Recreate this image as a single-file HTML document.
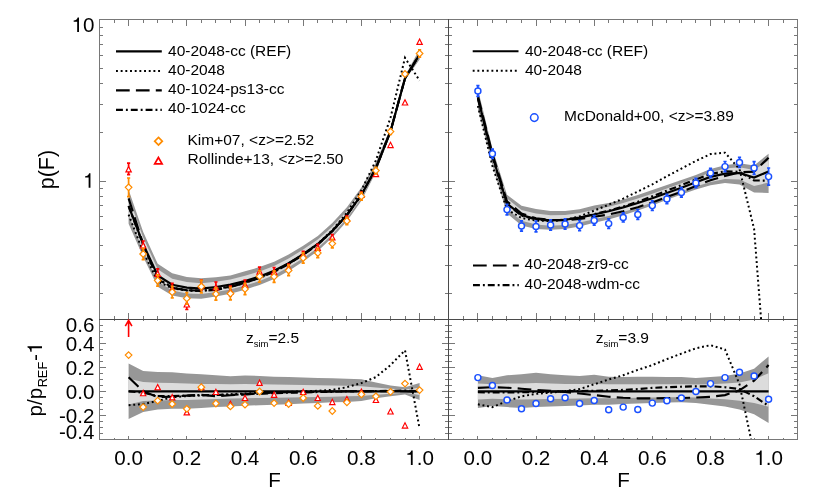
<!DOCTYPE html>
<html><head><meta charset="utf-8"><title>p(F)</title>
<style>
html,body{margin:0;padding:0;background:#fff;}
body{width:830px;height:499px;overflow:hidden;font-family:"Liberation Sans",sans-serif;}
svg{display:block;will-change:transform;}
</style></head><body>
<svg width="830" height="499" viewBox="0 0 830 499" font-family="'Liberation Sans', sans-serif" fill="#000">
<defs>
<clipPath id="cTL"><rect x="99.6" y="19.8" width="349.2" height="299.5"/></clipPath>
<clipPath id="cTR"><rect x="448.8" y="19.8" width="348.8" height="299.5"/></clipPath>
<clipPath id="cBL"><rect x="99.6" y="319.3" width="349.2" height="119.9"/></clipPath>
<clipPath id="cBR"><rect x="448.8" y="319.3" width="348.8" height="119.9"/></clipPath>
</defs>
<rect width="830" height="499" fill="#fff"/>
<g clip-path="url(#cTL)">
<path d="M128.6 189.8 L143.2 232.1 L157.7 263.8 L172.2 273.3 L186.8 276.9 L201.3 278.3 L215.9 277.2 L230.4 275.4 L245.0 271.3 L259.6 267.1 L274.1 261.8 L288.6 254.5 L303.2 245.8 L317.8 235.9 L332.3 223.0 L346.9 207.3 L361.4 187.6 L375.9 162.6 L390.5 127.8 L405.0 75.8 L419.6 49.3 L419.6 59.5 L405.0 80.2 L390.5 134.4 L375.9 172.3 L361.4 200.8 L346.9 221.2 L332.3 237.5 L317.8 251.0 L303.2 261.5 L288.6 270.9 L274.1 278.9 L259.6 284.9 L245.0 289.7 L230.4 293.7 L215.9 296.6 L201.3 298.7 L186.8 298.3 L172.2 295.4 L157.7 286.7 L143.2 257.0 L128.6 223.8 Z" fill="#979797"/>
<path d="M128.6 197.0 L143.2 237.4 L157.7 269.2 L172.2 278.8 L186.8 282.0 L201.3 283.2 L215.9 281.7 L230.4 279.5 L245.0 275.7 L259.6 271.4 L274.1 265.9 L288.6 258.5 L303.2 249.6 L317.8 239.6 L332.3 226.8 L346.9 210.9 L361.4 191.3 L375.9 165.3 L390.5 129.5 L405.0 77.1 L419.6 51.7 L419.6 56.9 L405.0 79.3 L390.5 133.1 L375.9 170.4 L361.4 198.0 L346.9 218.3 L332.3 234.6 L317.8 247.8 L303.2 258.2 L288.6 267.3 L274.1 275.1 L259.6 281.0 L245.0 285.6 L230.4 289.4 L215.9 292.1 L201.3 294.0 L186.8 293.4 L172.2 290.5 L157.7 281.6 L143.2 250.8 L128.6 215.0 Z" fill="#dcdcdc"/>
</g>
<g clip-path="url(#cTR)">
<path d="M477.9 89.2 L492.4 148.6 L507.0 194.7 L521.5 205.7 L536.0 209.0 L550.6 211.0 L565.1 211.0 L579.6 209.2 L594.2 205.4 L608.7 203.1 L623.2 199.6 L637.8 194.9 L652.3 190.1 L666.9 185.0 L681.4 179.9 L695.9 174.9 L710.5 169.1 L725.0 165.2 L739.5 163.3 L754.1 165.4 L768.6 153.7 L768.6 192.9 L754.1 192.4 L739.5 184.5 L725.0 183.0 L710.5 185.2 L695.9 189.5 L681.4 194.5 L666.9 199.8 L652.3 205.4 L637.8 210.5 L623.2 215.2 L608.7 219.5 L594.2 222.8 L579.6 226.4 L565.1 228.9 L550.6 229.7 L536.0 228.9 L521.5 225.4 L507.0 213.4 L492.4 165.1 L477.9 108.4 Z" fill="#979797"/>
<path d="M477.9 92.9 L492.4 151.5 L507.0 198.5 L521.5 209.9 L536.0 213.6 L550.6 215.2 L565.1 215.0 L579.6 212.9 L594.2 209.7 L608.7 206.7 L623.2 202.9 L637.8 198.5 L652.3 193.7 L666.9 188.4 L681.4 183.2 L695.9 177.9 L710.5 172.4 L725.0 168.6 L739.5 167.3 L754.1 170.0 L768.6 160.4 L768.6 182.6 L754.1 185.9 L739.5 179.6 L725.0 179.1 L710.5 181.9 L695.9 186.6 L681.4 191.8 L666.9 197.0 L652.3 202.5 L637.8 207.5 L623.2 212.1 L608.7 216.0 L594.2 219.3 L579.6 222.6 L565.1 225.0 L550.6 225.7 L536.0 224.5 L521.5 220.7 L507.0 209.0 L492.4 161.2 L477.9 103.7 Z" fill="#dcdcdc"/>
</g>
<g clip-path="url(#cBL)">
<path d="M128.6 363.5 L143.2 371.1 L157.7 371.9 L172.2 372.3 L186.8 373.5 L201.3 374.3 L215.9 375.2 L230.4 376.2 L245.0 375.5 L259.6 375.9 L274.1 376.7 L288.6 377.1 L303.2 377.6 L317.8 378.1 L332.3 378.3 L346.9 378.8 L361.4 379.3 L375.9 382.4 L390.5 385.5 L405.0 387.2 L419.6 383.1 L419.6 399.9 L405.0 394.4 L390.5 396.3 L375.9 398.3 L361.4 401.1 L346.9 401.9 L332.3 402.3 L317.8 403.1 L303.2 403.5 L288.6 404.3 L274.1 404.7 L259.6 405.2 L245.0 405.7 L230.4 406.4 L215.9 407.1 L201.3 407.9 L186.8 408.8 L172.2 408.8 L157.7 409.5 L143.2 411.9 L128.6 419.1 Z" fill="#979797"/>
<path d="M128.6 378.7 L143.2 381.9 L157.7 382.7 L172.2 383.1 L186.8 383.6 L201.3 383.9 L215.9 384.1 L230.4 384.3 L245.0 384.1 L259.6 384.3 L274.1 384.6 L288.6 384.8 L303.2 385.1 L317.8 385.3 L332.3 385.5 L346.9 385.8 L361.4 386.3 L375.9 387.5 L390.5 388.7 L405.0 389.6 L419.6 387.7 L419.6 395.1 L405.0 392.7 L390.5 393.7 L375.9 394.7 L361.4 395.9 L346.9 396.3 L332.3 396.8 L317.8 397.1 L303.2 397.3 L288.6 397.5 L274.1 397.8 L259.6 398.0 L245.0 398.3 L230.4 398.5 L215.9 399.0 L201.3 399.5 L186.8 399.9 L172.2 399.9 L157.7 400.4 L143.2 401.1 L128.6 404.5 Z" fill="#dcdcdc"/>
</g>
<g clip-path="url(#cBR)">
<path d="M477.9 375.2 L492.4 377.9 L507.0 375.2 L521.5 374.3 L536.0 372.8 L550.6 374.3 L565.1 375.2 L579.6 375.9 L594.2 374.7 L608.7 376.7 L623.2 377.1 L637.8 376.7 L652.3 376.7 L666.9 376.9 L681.4 377.1 L695.9 377.9 L710.5 377.1 L725.0 375.9 L739.5 373.5 L754.1 368.7 L768.6 356.5 L768.6 422.9 L754.1 414.3 L739.5 409.5 L725.0 406.4 L710.5 404.7 L695.9 403.1 L681.4 402.3 L666.9 402.6 L652.3 403.1 L637.8 403.5 L623.2 404.0 L608.7 404.7 L594.2 404.7 L579.6 405.5 L565.1 405.9 L550.6 406.4 L536.0 407.1 L521.5 407.9 L507.0 407.1 L492.4 405.9 L477.9 407.9 Z" fill="#979797"/>
<path d="M477.9 383.4 L492.4 384.3 L507.0 383.6 L521.5 383.4 L536.0 382.9 L550.6 383.4 L565.1 383.9 L579.6 384.1 L594.2 383.9 L608.7 384.3 L623.2 384.3 L637.8 384.3 L652.3 384.3 L666.9 384.3 L681.4 384.3 L695.9 384.6 L710.5 384.3 L725.0 383.6 L739.5 382.4 L754.1 379.5 L768.6 373.3 L768.6 406.7 L754.1 403.1 L739.5 400.7 L725.0 399.2 L710.5 398.5 L695.9 397.5 L681.4 397.3 L666.9 397.3 L652.3 397.5 L637.8 397.8 L623.2 398.0 L608.7 398.3 L594.2 398.3 L579.6 398.5 L565.1 398.7 L550.6 399.0 L536.0 399.2 L521.5 399.5 L507.0 399.2 L492.4 398.7 L477.9 399.5 Z" fill="#dcdcdc"/>
</g>
<path d="M128.6 206.0 L143.2 244.2 L157.7 275.5 L172.2 284.7 L186.8 287.6 L201.3 288.6 L215.9 287.0 L230.4 284.6 L245.0 281.0 L259.6 276.5 L274.1 270.8 L288.6 263.2 L303.2 254.2 L317.8 244.0 L332.3 231.0 L346.9 215.0 L361.4 195.0 L375.9 168.2 L390.5 131.5 L405.0 78.4 L419.6 54.4" fill="none" stroke="#000" stroke-width="2.15"  clip-path="url(#cTL)"/>
<path d="M128.6 214.6 L143.2 252.0 L157.7 281.3 L172.2 288.3 L186.8 290.5 L201.3 291.0 L215.9 289.1 L230.4 286.3 L245.0 282.3 L259.6 277.3 L274.1 271.4 L288.6 263.5 L303.2 254.2 L317.8 243.7 L332.3 230.2 L346.9 212.7 L361.4 190.4 L375.9 160.4 L390.5 117.7 L405.0 57.8 L419.6 80.6" fill="none" stroke="#000" stroke-width="2.00" stroke-dasharray="1.9 2.78" clip-path="url(#cTL)"/>
<path d="M128.6 198.3 L143.2 244.2 L157.7 279.0 L172.2 287.9 L186.8 290.2 L201.3 290.7 L215.9 289.9 L230.4 286.9 L245.0 282.8 L259.6 277.8 L274.1 271.5 L288.6 263.8 L303.2 254.6 L317.8 244.3 L332.3 231.1 L346.9 215.0 L361.4 195.0 L375.9 168.1 L390.5 131.4 L405.0 78.4 L419.6 54.7" fill="none" stroke="#000" stroke-width="2.15" stroke-dasharray="13.7 6.2" clip-path="url(#cTL)"/>
<path d="M128.6 206.0 L143.2 245.0 L157.7 278.4 L172.2 287.6 L186.8 290.2 L201.3 290.9 L215.9 289.1 L230.4 286.7 L245.0 282.7 L259.6 277.9 L274.1 271.9 L288.6 264.0 L303.2 254.9 L317.8 244.4 L332.3 231.3 L346.9 215.0 L361.4 194.9 L375.9 168.1 L390.5 131.2 L405.0 78.0 L419.6 54.4" fill="none" stroke="#000" stroke-width="2.15" stroke-dasharray="6.9 3.0 1.9 3.0" clip-path="url(#cTL)"/>
<path d="M477.9 98.0 L492.4 156.0 L507.0 203.5 L521.5 215.0 L536.0 219.0 L550.6 220.3 L565.1 219.8 L579.6 217.6 L594.2 214.5 L608.7 211.2 L623.2 207.4 L637.8 203.0 L652.3 198.2 L666.9 192.9 L681.4 187.7 L695.9 182.3 L710.5 176.9 L725.0 173.6 L739.5 173.0 L754.1 177.5 L768.6 171.5" fill="none" stroke="#000" stroke-width="2.15"  clip-path="url(#cTR)"/>
<path d="M477.9 106.0 L492.4 165.9 L507.0 209.5 L521.5 218.0 L536.0 220.6 L550.6 221.1 L565.1 219.7 L579.6 216.4 L594.2 210.6 L608.7 204.7 L623.2 198.6 L637.8 191.5 L652.3 184.4 L666.9 176.3 L681.4 168.6 L695.9 160.9 L710.5 154.1 L725.0 152.7 L739.5 169.1 L754.1 228.9 L768.6 417.0" fill="none" stroke="#000" stroke-width="2.00" stroke-dasharray="1.9 2.78" clip-path="url(#cTR)"/>
<path d="M477.9 96.1 L492.4 153.7 L507.0 201.4 L521.5 213.5 L536.0 218.2 L550.6 220.0 L565.1 220.2 L579.6 218.9 L594.2 216.8 L608.7 214.5 L623.2 211.3 L637.8 207.2 L652.3 202.4 L666.9 197.0 L681.4 191.7 L695.9 186.0 L710.5 180.2 L725.0 175.9 L739.5 172.4 L754.1 171.6 L768.6 157.7" fill="none" stroke="#000" stroke-width="2.15" stroke-dasharray="13.7 6.2" clip-path="url(#cTR)"/>
<path d="M477.9 98.6 L492.4 156.7 L507.0 204.1 L521.5 215.6 L536.0 219.4 L550.6 220.6 L565.1 219.8 L579.6 217.5 L594.2 214.2 L608.7 210.6 L623.2 206.6 L637.8 201.8 L652.3 196.3 L666.9 190.6 L681.4 185.1 L695.9 179.4 L710.5 174.0 L725.0 171.3 L739.5 171.8 L754.1 180.5 L768.6 180.6" fill="none" stroke="#000" stroke-width="2.15" stroke-dasharray="6.9 3.0 1.9 3.0" clip-path="url(#cTR)"/>
<path d="M128.6 391.3 L143.2 391.3 L157.7 391.3 L172.2 391.3 L186.8 391.3 L201.3 391.3 L215.9 391.3 L230.4 391.3 L245.0 391.3 L259.6 391.3 L274.1 391.3 L288.6 391.3 L303.2 391.3 L317.8 391.3 L332.3 391.3 L346.9 391.3 L361.4 391.3 L375.9 391.3 L390.5 391.3 L405.0 391.3 L419.6 391.3" fill="none" stroke="#000" stroke-width="2.15"  clip-path="url(#cBL)"/>
<path d="M128.6 405.2 L143.2 404.0 L157.7 400.9 L172.2 397.3 L186.8 396.1 L201.3 395.4 L215.9 394.9 L230.4 394.2 L245.0 393.5 L259.6 392.7 L274.1 392.3 L288.6 391.8 L303.2 391.3 L317.8 390.8 L332.3 389.9 L346.9 387.2 L361.4 383.1 L375.9 377.1 L390.5 365.1 L405.0 350.3 L419.6 428.7" fill="none" stroke="#000" stroke-width="2.00" stroke-dasharray="1.9 2.78" clip-path="url(#cBL)"/>
<path d="M128.6 377.3 L143.2 391.3 L157.7 397.2 L172.2 396.6 L186.8 395.6 L201.3 394.9 L215.9 396.2 L230.4 395.3 L245.0 394.4 L259.6 393.5 L274.1 392.5 L288.6 392.3 L303.2 392.0 L317.8 391.8 L332.3 391.5 L346.9 391.3 L361.4 391.3 L375.9 391.1 L390.5 391.1 L405.0 391.3 L419.6 391.8" fill="none" stroke="#000" stroke-width="2.15" stroke-dasharray="13.7 6.2" clip-path="url(#cBL)"/>
<path d="M128.6 391.3 L143.2 392.7 L157.7 396.1 L172.2 396.1 L186.8 395.6 L201.3 395.1 L215.9 394.9 L230.4 394.9 L245.0 394.2 L259.6 393.7 L274.1 393.2 L288.6 392.7 L303.2 392.5 L317.8 392.0 L332.3 391.8 L346.9 391.3 L361.4 391.1 L375.9 391.1 L390.5 390.8 L405.0 390.6 L419.6 391.3" fill="none" stroke="#000" stroke-width="2.15" stroke-dasharray="6.9 3.0 1.9 3.0" clip-path="url(#cBL)"/>
<path d="M477.9 391.3 L492.4 391.3 L507.0 391.3 L521.5 391.3 L536.0 391.3 L550.6 391.3 L565.1 391.3 L579.6 391.3 L594.2 391.3 L608.7 391.3 L623.2 391.3 L637.8 391.3 L652.3 391.3 L666.9 391.3 L681.4 391.3 L695.9 391.3 L710.5 391.3 L725.0 391.3 L739.5 391.3 L754.1 391.3 L768.6 391.3" fill="none" stroke="#000" stroke-width="2.15"  clip-path="url(#cBR)"/>
<path d="M477.9 404.3 L492.4 407.1 L507.0 401.1 L521.5 396.3 L536.0 393.9 L550.6 392.7 L565.1 391.1 L579.6 389.1 L594.2 384.3 L608.7 379.5 L623.2 375.2 L637.8 369.9 L652.3 365.1 L666.9 359.1 L681.4 353.6 L695.9 348.3 L710.5 345.2 L725.0 349.5 L739.5 384.3 L754.1 453.7 L768.6 507.7" fill="none" stroke="#000" stroke-width="2.00" stroke-dasharray="1.9 2.78" clip-path="url(#cBR)"/>
<path d="M477.9 387.9 L492.4 387.2 L507.0 387.7 L521.5 388.7 L536.0 389.9 L550.6 390.8 L565.1 392.0 L579.6 393.5 L594.2 395.1 L608.7 396.8 L623.2 397.8 L637.8 398.3 L652.3 398.3 L666.9 398.1 L681.4 398.0 L695.9 397.5 L710.5 396.8 L725.0 395.1 L739.5 390.3 L754.1 380.7 L768.6 365.1" fill="none" stroke="#000" stroke-width="2.15" stroke-dasharray="13.7 6.2" clip-path="url(#cBR)"/>
<path d="M477.9 392.3 L492.4 392.5 L507.0 392.3 L521.5 392.3 L536.0 392.0 L550.6 391.8 L565.1 391.3 L579.6 391.1 L594.2 390.8 L608.7 390.3 L623.2 389.9 L637.8 389.1 L652.3 387.9 L666.9 387.2 L681.4 386.7 L695.9 386.3 L710.5 386.3 L725.0 387.2 L739.5 389.1 L754.1 396.3 L768.6 405.9" fill="none" stroke="#000" stroke-width="2.15" stroke-dasharray="6.9 3.0 1.9 3.0" clip-path="url(#cBR)"/>
<path d="M99 19 H798 V20 H99 Z M99 319 H798 V320 H99 Z M99 439 H798 V440 H99 Z M99 19 H100 V440 H99 Z M448 19 H449 V440 H448 Z M797 19 H798 V440 H797 Z M114 20 H115 V23 H114 Z M114 316 H115 V319 H114 Z M114 320 H115 V321 H114 Z M114 438 H115 V439 H114 Z M128 20 H129 V26 H128 Z M128 313 H129 V319 H128 Z M128 320 H129 V322 H128 Z M128 436 H129 V439 H128 Z M143 20 H144 V23 H143 Z M143 316 H144 V319 H143 Z M143 320 H144 V321 H143 Z M143 438 H144 V439 H143 Z M157 20 H158 V23 H157 Z M157 316 H158 V319 H157 Z M157 320 H158 V321 H157 Z M157 438 H158 V439 H157 Z M172 20 H173 V23 H172 Z M172 316 H173 V319 H172 Z M172 320 H173 V321 H172 Z M172 438 H173 V439 H172 Z M186 20 H187 V26 H186 Z M186 313 H187 V319 H186 Z M186 320 H187 V322 H186 Z M186 436 H187 V439 H186 Z M201 20 H202 V23 H201 Z M201 316 H202 V319 H201 Z M201 320 H202 V321 H201 Z M201 438 H202 V439 H201 Z M215 20 H216 V23 H215 Z M215 316 H216 V319 H215 Z M215 320 H216 V321 H215 Z M215 438 H216 V439 H215 Z M230 20 H231 V23 H230 Z M230 316 H231 V319 H230 Z M230 320 H231 V321 H230 Z M230 438 H231 V439 H230 Z M245 20 H246 V26 H245 Z M245 313 H246 V319 H245 Z M245 320 H246 V322 H245 Z M245 436 H246 V439 H245 Z M259 20 H260 V23 H259 Z M259 316 H260 V319 H259 Z M259 320 H260 V321 H259 Z M259 438 H260 V439 H259 Z M274 20 H275 V23 H274 Z M274 316 H275 V319 H274 Z M274 320 H275 V321 H274 Z M274 438 H275 V439 H274 Z M288 20 H289 V23 H288 Z M288 316 H289 V319 H288 Z M288 320 H289 V321 H288 Z M288 438 H289 V439 H288 Z M303 20 H304 V26 H303 Z M303 313 H304 V319 H303 Z M303 320 H304 V322 H303 Z M303 436 H304 V439 H303 Z M317 20 H318 V23 H317 Z M317 316 H318 V319 H317 Z M317 320 H318 V321 H317 Z M317 438 H318 V439 H317 Z M332 20 H333 V23 H332 Z M332 316 H333 V319 H332 Z M332 320 H333 V321 H332 Z M332 438 H333 V439 H332 Z M346 20 H347 V23 H346 Z M346 316 H347 V319 H346 Z M346 320 H347 V321 H346 Z M346 438 H347 V439 H346 Z M361 20 H362 V26 H361 Z M361 313 H362 V319 H361 Z M361 320 H362 V322 H361 Z M361 436 H362 V439 H361 Z M375 20 H376 V23 H375 Z M375 316 H376 V319 H375 Z M375 320 H376 V321 H375 Z M375 438 H376 V439 H375 Z M390 20 H391 V23 H390 Z M390 316 H391 V319 H390 Z M390 320 H391 V321 H390 Z M390 438 H391 V439 H390 Z M405 20 H406 V23 H405 Z M405 316 H406 V319 H405 Z M405 320 H406 V321 H405 Z M405 438 H406 V439 H405 Z M419 20 H420 V26 H419 Z M419 313 H420 V319 H419 Z M419 320 H420 V322 H419 Z M419 436 H420 V439 H419 Z M434 20 H435 V23 H434 Z M434 316 H435 V319 H434 Z M434 320 H435 V321 H434 Z M434 438 H435 V439 H434 Z M463 20 H464 V23 H463 Z M463 316 H464 V319 H463 Z M463 320 H464 V321 H463 Z M463 438 H464 V439 H463 Z M477 20 H478 V26 H477 Z M477 313 H478 V319 H477 Z M477 320 H478 V322 H477 Z M477 436 H478 V439 H477 Z M492 20 H493 V23 H492 Z M492 316 H493 V319 H492 Z M492 320 H493 V321 H492 Z M492 438 H493 V439 H492 Z M506 20 H507 V23 H506 Z M506 316 H507 V319 H506 Z M506 320 H507 V321 H506 Z M506 438 H507 V439 H506 Z M521 20 H522 V23 H521 Z M521 316 H522 V319 H521 Z M521 320 H522 V321 H521 Z M521 438 H522 V439 H521 Z M536 20 H537 V26 H536 Z M536 313 H537 V319 H536 Z M536 320 H537 V322 H536 Z M536 436 H537 V439 H536 Z M550 20 H551 V23 H550 Z M550 316 H551 V319 H550 Z M550 320 H551 V321 H550 Z M550 438 H551 V439 H550 Z M565 20 H566 V23 H565 Z M565 316 H566 V319 H565 Z M565 320 H566 V321 H565 Z M565 438 H566 V439 H565 Z M579 20 H580 V23 H579 Z M579 316 H580 V319 H579 Z M579 320 H580 V321 H579 Z M579 438 H580 V439 H579 Z M594 20 H595 V26 H594 Z M594 313 H595 V319 H594 Z M594 320 H595 V322 H594 Z M594 436 H595 V439 H594 Z M608 20 H609 V23 H608 Z M608 316 H609 V319 H608 Z M608 320 H609 V321 H608 Z M608 438 H609 V439 H608 Z M623 20 H624 V23 H623 Z M623 316 H624 V319 H623 Z M623 320 H624 V321 H623 Z M623 438 H624 V439 H623 Z M637 20 H638 V23 H637 Z M637 316 H638 V319 H637 Z M637 320 H638 V321 H637 Z M637 438 H638 V439 H637 Z M652 20 H653 V26 H652 Z M652 313 H653 V319 H652 Z M652 320 H653 V322 H652 Z M652 436 H653 V439 H652 Z M666 20 H667 V23 H666 Z M666 316 H667 V319 H666 Z M666 320 H667 V321 H666 Z M666 438 H667 V439 H666 Z M681 20 H682 V23 H681 Z M681 316 H682 V319 H681 Z M681 320 H682 V321 H681 Z M681 438 H682 V439 H681 Z M695 20 H696 V23 H695 Z M695 316 H696 V319 H695 Z M695 320 H696 V321 H695 Z M695 438 H696 V439 H695 Z M710 20 H711 V26 H710 Z M710 313 H711 V319 H710 Z M710 320 H711 V322 H710 Z M710 436 H711 V439 H710 Z M724 20 H725 V23 H724 Z M724 316 H725 V319 H724 Z M724 320 H725 V321 H724 Z M724 438 H725 V439 H724 Z M739 20 H740 V23 H739 Z M739 316 H740 V319 H739 Z M739 320 H740 V321 H739 Z M739 438 H740 V439 H739 Z M754 20 H755 V23 H754 Z M754 316 H755 V319 H754 Z M754 320 H755 V321 H754 Z M754 438 H755 V439 H754 Z M768 20 H769 V26 H768 Z M768 313 H769 V319 H768 Z M768 320 H769 V322 H768 Z M768 436 H769 V439 H768 Z M783 20 H784 V23 H783 Z M783 316 H784 V319 H783 Z M783 320 H784 V321 H783 Z M783 438 H784 V439 H783 Z M100 293 H103 V294 H100 Z M100 265 H103 V266 H100 Z M100 245 H103 V246 H100 Z M100 229 H103 V230 H100 Z M100 216 H103 V217 H100 Z M100 205 H103 V206 H100 Z M100 196 H103 V197 H100 Z M100 188 H103 V189 H100 Z M100 181 H106 V182 H100 Z M100 132 H103 V133 H100 Z M100 104 H103 V105 H100 Z M100 83 H103 V84 H100 Z M100 68 H103 V69 H100 Z M100 55 H103 V56 H100 Z M100 44 H103 V45 H100 Z M100 35 H103 V36 H100 Z M100 27 H103 V28 H100 Z M100 433 H103 V434 H100 Z M100 427 H103 V428 H100 Z M100 421 H103 V422 H100 Z M100 415 H106 V416 H100 Z M100 409 H103 V410 H100 Z M100 403 H103 V404 H100 Z M100 397 H103 V398 H100 Z M100 391 H106 V392 H100 Z M100 385 H103 V386 H100 Z M100 379 H103 V380 H100 Z M100 373 H103 V374 H100 Z M100 367 H106 V368 H100 Z M100 361 H103 V362 H100 Z M100 355 H103 V356 H100 Z M100 349 H103 V350 H100 Z M100 343 H106 V344 H100 Z M100 337 H103 V338 H100 Z M100 331 H103 V332 H100 Z M100 325 H103 V326 H100 Z M445 293 H448 V294 H445 Z M449 293 H452 V294 H449 Z M445 265 H448 V266 H445 Z M449 265 H452 V266 H449 Z M445 245 H448 V246 H445 Z M449 245 H452 V246 H449 Z M445 229 H448 V230 H445 Z M449 229 H452 V230 H449 Z M445 216 H448 V217 H445 Z M449 216 H452 V217 H449 Z M445 205 H448 V206 H445 Z M449 205 H452 V206 H449 Z M445 196 H448 V197 H445 Z M449 196 H452 V197 H449 Z M445 188 H448 V189 H445 Z M449 188 H452 V189 H449 Z M442 181 H448 V182 H442 Z M449 181 H455 V182 H449 Z M445 132 H448 V133 H445 Z M449 132 H452 V133 H449 Z M445 104 H448 V105 H445 Z M449 104 H452 V105 H449 Z M445 83 H448 V84 H445 Z M449 83 H452 V84 H449 Z M445 68 H448 V69 H445 Z M449 68 H452 V69 H449 Z M445 55 H448 V56 H445 Z M449 55 H452 V56 H449 Z M445 44 H448 V45 H445 Z M449 44 H452 V45 H449 Z M445 35 H448 V36 H445 Z M449 35 H452 V36 H449 Z M445 27 H448 V28 H445 Z M449 27 H452 V28 H449 Z M445 433 H448 V434 H445 Z M449 433 H452 V434 H449 Z M445 427 H448 V428 H445 Z M449 427 H452 V428 H449 Z M445 421 H448 V422 H445 Z M449 421 H452 V422 H449 Z M442 415 H448 V416 H442 Z M449 415 H455 V416 H449 Z M445 409 H448 V410 H445 Z M449 409 H452 V410 H449 Z M445 403 H448 V404 H445 Z M449 403 H452 V404 H449 Z M445 397 H448 V398 H445 Z M449 397 H452 V398 H449 Z M442 391 H448 V392 H442 Z M449 391 H455 V392 H449 Z M445 385 H448 V386 H445 Z M449 385 H452 V386 H449 Z M445 379 H448 V380 H445 Z M449 379 H452 V380 H449 Z M445 373 H448 V374 H445 Z M449 373 H452 V374 H449 Z M442 367 H448 V368 H442 Z M449 367 H455 V368 H449 Z M445 361 H448 V362 H445 Z M449 361 H452 V362 H449 Z M445 355 H448 V356 H445 Z M449 355 H452 V356 H449 Z M445 349 H448 V350 H445 Z M449 349 H452 V350 H449 Z M442 343 H448 V344 H442 Z M449 343 H455 V344 H449 Z M445 337 H448 V338 H445 Z M449 337 H452 V338 H449 Z M445 331 H448 V332 H445 Z M449 331 H452 V332 H449 Z M445 325 H448 V326 H445 Z M449 325 H452 V326 H449 Z M794 293 H797 V294 H794 Z M794 265 H797 V266 H794 Z M794 245 H797 V246 H794 Z M794 229 H797 V230 H794 Z M794 216 H797 V217 H794 Z M794 205 H797 V206 H794 Z M794 196 H797 V197 H794 Z M794 188 H797 V189 H794 Z M791 181 H797 V182 H791 Z M794 132 H797 V133 H794 Z M794 104 H797 V105 H794 Z M794 83 H797 V84 H794 Z M794 68 H797 V69 H794 Z M794 55 H797 V56 H794 Z M794 44 H797 V45 H794 Z M794 35 H797 V36 H794 Z M794 27 H797 V28 H794 Z M794 433 H797 V434 H794 Z M794 427 H797 V428 H794 Z M794 421 H797 V422 H794 Z M791 415 H797 V416 H791 Z M794 409 H797 V410 H794 Z M794 403 H797 V404 H794 Z M794 397 H797 V398 H794 Z M791 391 H797 V392 H791 Z M794 385 H797 V386 H794 Z M794 379 H797 V380 H794 Z M794 373 H797 V374 H794 Z M791 367 H797 V368 H791 Z M794 361 H797 V362 H794 Z M794 355 H797 V356 H794 Z M794 349 H797 V350 H794 Z M791 343 H797 V344 H791 Z M794 337 H797 V338 H794 Z M794 331 H797 V332 H794 Z M794 325 H797 V326 H794 Z" fill="#787878" shape-rendering="crispEdges"/>
<path d="M99 319 H798 V320 H99 Z M448 19 H449 V440 H448 Z" fill="#4a4a4a" shape-rendering="crispEdges"/>
<path d="M128.6 163.1 V174.7 M127.0 163.1 H130.2 M127.0 174.7 H130.2" fill="none" stroke="#ff0000" stroke-width="1.70"/>
<path d="M128.6 166.6 L131.3 171.9 L125.9 171.9 Z" fill="#fff" stroke="#ff0000" stroke-width="1.15"/>
<path d="M143.2 241.0 V249.0 M141.6 241.0 H144.8 M141.6 249.0 H144.8" fill="none" stroke="#ff0000" stroke-width="1.70"/>
<path d="M143.2 242.7 L145.8 248.0 L140.5 248.0 Z" fill="#fff" stroke="#ff0000" stroke-width="1.15"/>
<path d="M157.7 268.8 V277.8 M156.1 268.8 H159.3 M156.1 277.8 H159.3" fill="none" stroke="#ff0000" stroke-width="1.70"/>
<path d="M157.7 271.0 L160.4 276.3 L155.0 276.3 Z" fill="#fff" stroke="#ff0000" stroke-width="1.15"/>
<path d="M172.2 283.4 V293.4 M170.7 283.4 H173.8 M170.7 293.4 H173.8" fill="none" stroke="#ff0000" stroke-width="1.70"/>
<path d="M172.2 286.1 L174.9 291.4 L169.6 291.4 Z" fill="#fff" stroke="#ff0000" stroke-width="1.15"/>
<path d="M186.8 298.5 V309.5 M185.2 298.5 H188.4 M185.2 309.5 H188.4" fill="none" stroke="#ff0000" stroke-width="1.70"/>
<path d="M186.8 301.7 L189.5 307.0 L184.1 307.0 Z" fill="#fff" stroke="#ff0000" stroke-width="1.15"/>
<path d="M201.3 280.0 V290.0 M199.8 280.0 H202.9 M199.8 290.0 H202.9" fill="none" stroke="#ff0000" stroke-width="1.70"/>
<path d="M201.3 282.7 L204.0 288.0 L198.7 288.0 Z" fill="#fff" stroke="#ff0000" stroke-width="1.15"/>
<path d="M215.9 282.0 V292.0 M214.3 282.0 H217.5 M214.3 292.0 H217.5" fill="none" stroke="#ff0000" stroke-width="1.70"/>
<path d="M215.9 284.7 L218.6 290.0 L213.2 290.0 Z" fill="#fff" stroke="#ff0000" stroke-width="1.15"/>
<path d="M230.4 286.0 V296.0 M228.8 286.0 H232.0 M228.8 296.0 H232.0" fill="none" stroke="#ff0000" stroke-width="1.70"/>
<path d="M230.4 288.7 L233.1 294.0 L227.8 294.0 Z" fill="#fff" stroke="#ff0000" stroke-width="1.15"/>
<path d="M245.0 280.0 V289.0 M243.4 280.0 H246.6 M243.4 289.0 H246.6" fill="none" stroke="#ff0000" stroke-width="1.70"/>
<path d="M245.0 282.2 L247.7 287.5 L242.3 287.5 Z" fill="#fff" stroke="#ff0000" stroke-width="1.15"/>
<path d="M259.6 267.2 V275.2 M257.9 267.2 H261.2 M257.9 275.2 H261.2" fill="none" stroke="#ff0000" stroke-width="1.70"/>
<path d="M259.6 268.9 L262.2 274.2 L256.9 274.2 Z" fill="#fff" stroke="#ff0000" stroke-width="1.15"/>
<path d="M274.1 267.5 V275.5 M272.5 267.5 H275.7 M272.5 275.5 H275.7" fill="none" stroke="#ff0000" stroke-width="1.70"/>
<path d="M274.1 269.2 L276.8 274.5 L271.4 274.5 Z" fill="#fff" stroke="#ff0000" stroke-width="1.15"/>
<path d="M288.6 264.0 V271.0 M287.0 264.0 H290.2 M287.0 271.0 H290.2" fill="none" stroke="#ff0000" stroke-width="1.70"/>
<path d="M288.6 265.2 L291.3 270.5 L285.9 270.5 Z" fill="#fff" stroke="#ff0000" stroke-width="1.15"/>
<path d="M303.2 251.4 V257.4 M301.6 251.4 H304.8 M301.6 257.4 H304.8" fill="none" stroke="#ff0000" stroke-width="1.70"/>
<path d="M303.2 252.1 L305.9 257.4 L300.5 257.4 Z" fill="#fff" stroke="#ff0000" stroke-width="1.15"/>
<path d="M317.8 244.4 V250.4 M316.1 244.4 H319.4 M316.1 250.4 H319.4" fill="none" stroke="#ff0000" stroke-width="1.70"/>
<path d="M317.8 245.1 L320.4 250.4 L315.1 250.4 Z" fill="#fff" stroke="#ff0000" stroke-width="1.15"/>
<path d="M332.3 234.5 V239.5 M330.7 234.5 H333.9 M330.7 239.5 H333.9" fill="none" stroke="#ff0000" stroke-width="1.70"/>
<path d="M332.3 234.7 L335.0 240.0 L329.6 240.0 Z" fill="#fff" stroke="#ff0000" stroke-width="1.15"/>
<path d="M346.9 216.0 V220.0 M345.2 216.0 H348.5 M345.2 220.0 H348.5" fill="none" stroke="#ff0000" stroke-width="1.70"/>
<path d="M346.9 215.7 L349.6 221.0 L344.2 221.0 Z" fill="#fff" stroke="#ff0000" stroke-width="1.15"/>
<path d="M361.4 192.4 V196.4 M359.8 192.4 H363.0 M359.8 196.4 H363.0" fill="none" stroke="#ff0000" stroke-width="1.70"/>
<path d="M361.4 192.1 L364.1 197.4 L358.7 197.4 Z" fill="#fff" stroke="#ff0000" stroke-width="1.15"/>
<path d="M375.9 171.3 L378.6 176.6 L373.2 176.6 Z" fill="#fff" stroke="#ff0000" stroke-width="1.15"/>
<path d="M390.5 142.3 L393.2 147.6 L387.8 147.6 Z" fill="#fff" stroke="#ff0000" stroke-width="1.15"/>
<path d="M405.0 99.7 L407.7 105.0 L402.3 105.0 Z" fill="#fff" stroke="#ff0000" stroke-width="1.15"/>
<path d="M419.6 39.1 L422.3 44.4 L416.9 44.4 Z" fill="#fff" stroke="#ff0000" stroke-width="1.15"/>
<path d="M128.6 178.0 V196.6 M127.0 178.0 H130.2 M127.0 196.6 H130.2" fill="none" stroke="#ff8c00" stroke-width="1.70"/>
<path d="M128.6 184.0 L131.9 187.3 L128.6 190.6 L125.3 187.3 Z" fill="#fff" stroke="#ff8c00" stroke-width="1.20"/>
<path d="M143.2 248.3 V259.7 M141.6 248.3 H144.8 M141.6 259.7 H144.8" fill="none" stroke="#ff8c00" stroke-width="1.70"/>
<path d="M143.2 250.7 L146.5 254.0 L143.2 257.3 L139.8 254.0 Z" fill="#fff" stroke="#ff8c00" stroke-width="1.20"/>
<path d="M157.7 274.8 V286.2 M156.1 274.8 H159.3 M156.1 286.2 H159.3" fill="none" stroke="#ff8c00" stroke-width="1.70"/>
<path d="M157.7 277.2 L161.0 280.5 L157.7 283.8 L154.4 280.5 Z" fill="#fff" stroke="#ff8c00" stroke-width="1.20"/>
<path d="M172.2 286.4 V297.8 M170.7 286.4 H173.8 M170.7 297.8 H173.8" fill="none" stroke="#ff8c00" stroke-width="1.70"/>
<path d="M172.2 288.8 L175.6 292.1 L172.2 295.4 L168.9 292.1 Z" fill="#fff" stroke="#ff8c00" stroke-width="1.20"/>
<path d="M186.8 292.7 V304.1 M185.2 292.7 H188.4 M185.2 304.1 H188.4" fill="none" stroke="#ff8c00" stroke-width="1.70"/>
<path d="M186.8 295.1 L190.1 298.4 L186.8 301.7 L183.5 298.4 Z" fill="#fff" stroke="#ff8c00" stroke-width="1.20"/>
<path d="M201.3 280.4 V292.8 M199.8 280.4 H202.9 M199.8 292.8 H202.9" fill="none" stroke="#ff8c00" stroke-width="1.70"/>
<path d="M201.3 283.3 L204.7 286.6 L201.3 289.9 L198.0 286.6 Z" fill="#fff" stroke="#ff8c00" stroke-width="1.20"/>
<path d="M215.9 287.8 V300.2 M214.3 287.8 H217.5 M214.3 300.2 H217.5" fill="none" stroke="#ff8c00" stroke-width="1.70"/>
<path d="M215.9 290.7 L219.2 294.0 L215.9 297.3 L212.6 294.0 Z" fill="#fff" stroke="#ff8c00" stroke-width="1.20"/>
<path d="M230.4 287.4 V299.8 M228.8 287.4 H232.0 M228.8 299.8 H232.0" fill="none" stroke="#ff8c00" stroke-width="1.70"/>
<path d="M230.4 290.3 L233.8 293.6 L230.4 296.9 L227.1 293.6 Z" fill="#fff" stroke="#ff8c00" stroke-width="1.20"/>
<path d="M245.0 283.3 V294.7 M243.4 283.3 H246.6 M243.4 294.7 H246.6" fill="none" stroke="#ff8c00" stroke-width="1.70"/>
<path d="M245.0 285.7 L248.3 289.0 L245.0 292.3 L241.7 289.0 Z" fill="#fff" stroke="#ff8c00" stroke-width="1.20"/>
<path d="M259.6 270.7 V282.1 M257.9 270.7 H261.2 M257.9 282.1 H261.2" fill="none" stroke="#ff8c00" stroke-width="1.70"/>
<path d="M259.6 273.1 L262.9 276.4 L259.6 279.7 L256.2 276.4 Z" fill="#fff" stroke="#ff8c00" stroke-width="1.20"/>
<path d="M274.1 270.9 V282.3 M272.5 270.9 H275.7 M272.5 282.3 H275.7" fill="none" stroke="#ff8c00" stroke-width="1.70"/>
<path d="M274.1 273.3 L277.4 276.6 L274.1 279.9 L270.8 276.6 Z" fill="#fff" stroke="#ff8c00" stroke-width="1.20"/>
<path d="M288.6 265.2 V275.6 M287.0 265.2 H290.2 M287.0 275.6 H290.2" fill="none" stroke="#ff8c00" stroke-width="1.70"/>
<path d="M288.6 267.1 L291.9 270.4 L288.6 273.7 L285.3 270.4 Z" fill="#fff" stroke="#ff8c00" stroke-width="1.20"/>
<path d="M303.2 252.8 V263.2 M301.6 252.8 H304.8 M301.6 263.2 H304.8" fill="none" stroke="#ff8c00" stroke-width="1.70"/>
<path d="M303.2 254.7 L306.5 258.0 L303.2 261.3 L299.9 258.0 Z" fill="#fff" stroke="#ff8c00" stroke-width="1.20"/>
<path d="M317.8 248.3 V257.7 M316.1 248.3 H319.4 M316.1 257.7 H319.4" fill="none" stroke="#ff8c00" stroke-width="1.70"/>
<path d="M317.8 249.7 L321.1 253.0 L317.8 256.3 L314.4 253.0 Z" fill="#fff" stroke="#ff8c00" stroke-width="1.20"/>
<path d="M332.3 239.4 V247.8 M330.7 239.4 H333.9 M330.7 247.8 H333.9" fill="none" stroke="#ff8c00" stroke-width="1.70"/>
<path d="M332.3 240.3 L335.6 243.6 L332.3 246.9 L329.0 243.6 Z" fill="#fff" stroke="#ff8c00" stroke-width="1.20"/>
<path d="M346.9 217.3 V224.7 M345.2 217.3 H348.5 M345.2 224.7 H348.5" fill="none" stroke="#ff8c00" stroke-width="1.70"/>
<path d="M346.9 217.7 L350.2 221.0 L346.9 224.3 L343.6 221.0 Z" fill="#fff" stroke="#ff8c00" stroke-width="1.20"/>
<path d="M361.4 192.7 V200.1 M359.8 192.7 H363.0 M359.8 200.1 H363.0" fill="none" stroke="#ff8c00" stroke-width="1.70"/>
<path d="M361.4 193.1 L364.7 196.4 L361.4 199.7 L358.1 196.4 Z" fill="#fff" stroke="#ff8c00" stroke-width="1.20"/>
<path d="M375.9 167.4 V173.8 M374.3 167.4 H377.6 M374.3 173.8 H377.6" fill="none" stroke="#ff8c00" stroke-width="1.70"/>
<path d="M375.9 167.3 L379.2 170.6 L375.9 173.9 L372.6 170.6 Z" fill="#fff" stroke="#ff8c00" stroke-width="1.20"/>
<path d="M390.5 128.9 V134.3 M388.9 128.9 H392.1 M388.9 134.3 H392.1" fill="none" stroke="#ff8c00" stroke-width="1.70"/>
<path d="M390.5 128.3 L393.8 131.6 L390.5 134.9 L387.2 131.6 Z" fill="#fff" stroke="#ff8c00" stroke-width="1.20"/>
<path d="M405.0 70.7 L408.3 74.0 L405.0 77.3 L401.7 74.0 Z" fill="#fff" stroke="#ff8c00" stroke-width="1.20"/>
<path d="M419.6 49.8 V57.2 M418.0 49.8 H421.2 M418.0 57.2 H421.2" fill="none" stroke="#ff8c00" stroke-width="1.70"/>
<path d="M419.6 50.2 L422.9 53.5 L419.6 56.8 L416.3 53.5 Z" fill="#fff" stroke="#ff8c00" stroke-width="1.20"/>
<path d="M128.6 337 V320.6 M125.3 326.2 L128.6 320.3 L131.9 326.2" fill="none" stroke="#ff0000" stroke-width="1.6" stroke-linejoin="miter"/>
<path d="M143.2 390.4 L145.8 395.7 L140.5 395.7 Z" fill="#fff" stroke="#ff0000" stroke-width="1.15"/>
<path d="M157.7 384.4 L160.4 389.7 L155.0 389.7 Z" fill="#fff" stroke="#ff0000" stroke-width="1.15"/>
<path d="M172.2 394.5 L174.9 399.8 L169.6 399.8 Z" fill="#fff" stroke="#ff0000" stroke-width="1.15"/>
<path d="M186.8 409.6 L189.5 414.9 L184.1 414.9 Z" fill="#fff" stroke="#ff0000" stroke-width="1.15"/>
<path d="M201.3 384.4 L204.0 389.7 L198.7 389.7 Z" fill="#fff" stroke="#ff0000" stroke-width="1.15"/>
<path d="M215.9 389.2 L218.6 394.5 L213.2 394.5 Z" fill="#fff" stroke="#ff0000" stroke-width="1.15"/>
<path d="M230.4 401.2 L233.1 406.5 L227.8 406.5 Z" fill="#fff" stroke="#ff0000" stroke-width="1.15"/>
<path d="M245.0 395.2 L247.7 400.5 L242.3 400.5 Z" fill="#fff" stroke="#ff0000" stroke-width="1.15"/>
<path d="M259.6 380.1 L262.2 385.4 L256.9 385.4 Z" fill="#fff" stroke="#ff0000" stroke-width="1.15"/>
<path d="M274.1 392.1 L276.8 397.4 L271.4 397.4 Z" fill="#fff" stroke="#ff0000" stroke-width="1.15"/>
<path d="M288.6 400.0 L291.3 405.3 L285.9 405.3 Z" fill="#fff" stroke="#ff0000" stroke-width="1.15"/>
<path d="M303.2 389.2 L305.9 394.5 L300.5 394.5 Z" fill="#fff" stroke="#ff0000" stroke-width="1.15"/>
<path d="M317.8 395.2 L320.4 400.5 L315.1 400.5 Z" fill="#fff" stroke="#ff0000" stroke-width="1.15"/>
<path d="M332.3 399.3 L335.0 404.6 L329.6 404.6 Z" fill="#fff" stroke="#ff0000" stroke-width="1.15"/>
<path d="M346.9 396.4 L349.6 401.7 L344.2 401.7 Z" fill="#fff" stroke="#ff0000" stroke-width="1.15"/>
<path d="M361.4 389.0 L364.1 394.3 L358.7 394.3 Z" fill="#fff" stroke="#ff0000" stroke-width="1.15"/>
<path d="M375.9 397.2 L378.6 402.5 L373.2 402.5 Z" fill="#fff" stroke="#ff0000" stroke-width="1.15"/>
<path d="M390.5 408.7 L393.2 414.0 L387.8 414.0 Z" fill="#fff" stroke="#ff0000" stroke-width="1.15"/>
<path d="M405.0 422.8 L407.7 428.1 L402.3 428.1 Z" fill="#fff" stroke="#ff0000" stroke-width="1.15"/>
<path d="M419.6 364.0 L422.3 369.3 L416.9 369.3 Z" fill="#fff" stroke="#ff0000" stroke-width="1.15"/>
<path d="M128.6 351.8 L131.9 355.1 L128.6 358.4 L125.3 355.1 Z" fill="#fff" stroke="#ff8c00" stroke-width="1.20"/>
<path d="M143.2 403.8 L146.5 407.1 L143.2 410.4 L139.8 407.1 Z" fill="#fff" stroke="#ff8c00" stroke-width="1.20"/>
<path d="M157.7 397.4 L161.0 400.7 L157.7 404.0 L154.4 400.7 Z" fill="#fff" stroke="#ff8c00" stroke-width="1.20"/>
<path d="M172.2 400.7 L175.6 404.0 L172.2 407.3 L168.9 404.0 Z" fill="#fff" stroke="#ff8c00" stroke-width="1.20"/>
<path d="M186.8 405.5 L190.1 408.8 L186.8 412.1 L183.5 408.8 Z" fill="#fff" stroke="#ff8c00" stroke-width="1.20"/>
<path d="M201.3 383.9 L204.7 387.2 L201.3 390.5 L198.0 387.2 Z" fill="#fff" stroke="#ff8c00" stroke-width="1.20"/>
<path d="M215.9 400.2 L219.2 403.5 L215.9 406.8 L212.6 403.5 Z" fill="#fff" stroke="#ff8c00" stroke-width="1.20"/>
<path d="M230.4 403.1 L233.8 406.4 L230.4 409.7 L227.1 406.4 Z" fill="#fff" stroke="#ff8c00" stroke-width="1.20"/>
<path d="M245.0 401.4 L248.3 404.7 L245.0 408.0 L241.7 404.7 Z" fill="#fff" stroke="#ff8c00" stroke-width="1.20"/>
<path d="M259.6 388.2 L262.9 391.5 L259.6 394.8 L256.2 391.5 Z" fill="#fff" stroke="#ff8c00" stroke-width="1.20"/>
<path d="M274.1 399.8 L277.4 403.1 L274.1 406.4 L270.8 403.1 Z" fill="#fff" stroke="#ff8c00" stroke-width="1.20"/>
<path d="M288.6 400.7 L291.9 404.0 L288.6 407.3 L285.3 404.0 Z" fill="#fff" stroke="#ff8c00" stroke-width="1.20"/>
<path d="M303.2 394.7 L306.5 398.0 L303.2 401.3 L299.9 398.0 Z" fill="#fff" stroke="#ff8c00" stroke-width="1.20"/>
<path d="M317.8 402.6 L321.1 405.9 L317.8 409.2 L314.4 405.9 Z" fill="#fff" stroke="#ff8c00" stroke-width="1.20"/>
<path d="M332.3 407.7 L335.6 411.0 L332.3 414.3 L329.0 411.0 Z" fill="#fff" stroke="#ff8c00" stroke-width="1.20"/>
<path d="M346.9 399.0 L350.2 402.3 L346.9 405.6 L343.6 402.3 Z" fill="#fff" stroke="#ff8c00" stroke-width="1.20"/>
<path d="M361.4 391.1 L364.7 394.4 L361.4 397.7 L358.1 394.4 Z" fill="#fff" stroke="#ff8c00" stroke-width="1.20"/>
<path d="M375.9 393.0 L379.2 396.3 L375.9 399.6 L372.6 396.3 Z" fill="#fff" stroke="#ff8c00" stroke-width="1.20"/>
<path d="M390.5 388.5 L393.8 391.8 L390.5 395.1 L387.2 391.8 Z" fill="#fff" stroke="#ff8c00" stroke-width="1.20"/>
<path d="M405.0 380.3 L408.3 383.6 L405.0 386.9 L401.7 383.6 Z" fill="#fff" stroke="#ff8c00" stroke-width="1.20"/>
<path d="M419.6 386.8 L422.9 390.1 L419.6 393.4 L416.3 390.1 Z" fill="#fff" stroke="#ff8c00" stroke-width="1.20"/>
<path d="M477.9 85.6 V96.4 M476.3 85.6 H479.5 M476.3 96.4 H479.5" fill="none" stroke="#1a50ff" stroke-width="1.70"/>
<circle cx="477.9" cy="91.0" r="3.0" fill="#fff" stroke="#1a50ff" stroke-width="1.45"/>
<path d="M492.4 149.1 V158.5 M490.8 149.1 H494.0 M490.8 158.5 H494.0" fill="none" stroke="#1a50ff" stroke-width="1.70"/>
<circle cx="492.4" cy="153.8" r="3.0" fill="#fff" stroke="#1a50ff" stroke-width="1.45"/>
<path d="M507.0 204.4 V214.8 M505.4 204.4 H508.6 M505.4 214.8 H508.6" fill="none" stroke="#1a50ff" stroke-width="1.70"/>
<circle cx="507.0" cy="209.6" r="3.0" fill="#fff" stroke="#1a50ff" stroke-width="1.45"/>
<path d="M521.5 220.8 V231.2 M519.9 220.8 H523.1 M519.9 231.2 H523.1" fill="none" stroke="#1a50ff" stroke-width="1.70"/>
<circle cx="521.5" cy="226.0" r="3.0" fill="#fff" stroke="#1a50ff" stroke-width="1.45"/>
<path d="M536.0 221.0 V231.8 M534.4 221.0 H537.6 M534.4 231.8 H537.6" fill="none" stroke="#1a50ff" stroke-width="1.70"/>
<circle cx="536.0" cy="226.4" r="3.0" fill="#fff" stroke="#1a50ff" stroke-width="1.45"/>
<path d="M550.6 219.9 V230.1 M549.0 219.9 H552.2 M549.0 230.1 H552.2" fill="none" stroke="#1a50ff" stroke-width="1.70"/>
<circle cx="550.6" cy="225.0" r="3.0" fill="#fff" stroke="#1a50ff" stroke-width="1.45"/>
<path d="M565.1 218.8 V229.2 M563.5 218.8 H566.7 M563.5 229.2 H566.7" fill="none" stroke="#1a50ff" stroke-width="1.70"/>
<circle cx="565.1" cy="224.0" r="3.0" fill="#fff" stroke="#1a50ff" stroke-width="1.45"/>
<path d="M579.6 220.5 V230.7 M578.0 220.5 H581.2 M578.0 230.7 H581.2" fill="none" stroke="#1a50ff" stroke-width="1.70"/>
<circle cx="579.6" cy="225.6" r="3.0" fill="#fff" stroke="#1a50ff" stroke-width="1.45"/>
<path d="M594.2 215.7 V225.1 M592.6 215.7 H595.8 M592.6 225.1 H595.8" fill="none" stroke="#1a50ff" stroke-width="1.70"/>
<circle cx="594.2" cy="220.4" r="3.0" fill="#fff" stroke="#1a50ff" stroke-width="1.45"/>
<path d="M608.7 218.9 V228.3 M607.1 218.9 H610.3 M607.1 228.3 H610.3" fill="none" stroke="#1a50ff" stroke-width="1.70"/>
<circle cx="608.7" cy="223.6" r="3.0" fill="#fff" stroke="#1a50ff" stroke-width="1.45"/>
<path d="M623.2 212.8 V222.0 M621.6 212.8 H624.9 M621.6 222.0 H624.9" fill="none" stroke="#1a50ff" stroke-width="1.70"/>
<circle cx="623.2" cy="217.4" r="3.0" fill="#fff" stroke="#1a50ff" stroke-width="1.45"/>
<path d="M637.8 209.5 V219.3 M636.2 209.5 H639.4 M636.2 219.3 H639.4" fill="none" stroke="#1a50ff" stroke-width="1.70"/>
<circle cx="637.8" cy="214.4" r="3.0" fill="#fff" stroke="#1a50ff" stroke-width="1.45"/>
<path d="M652.3 200.9 V210.3 M650.7 200.9 H653.9 M650.7 210.3 H653.9" fill="none" stroke="#1a50ff" stroke-width="1.70"/>
<circle cx="652.3" cy="205.6" r="3.0" fill="#fff" stroke="#1a50ff" stroke-width="1.45"/>
<path d="M666.9 194.4 V203.6 M665.3 194.4 H668.5 M665.3 203.6 H668.5" fill="none" stroke="#1a50ff" stroke-width="1.70"/>
<circle cx="666.9" cy="199.0" r="3.0" fill="#fff" stroke="#1a50ff" stroke-width="1.45"/>
<path d="M681.4 187.7 V197.1 M679.8 187.7 H683.0 M679.8 197.1 H683.0" fill="none" stroke="#1a50ff" stroke-width="1.70"/>
<circle cx="681.4" cy="192.4" r="3.0" fill="#fff" stroke="#1a50ff" stroke-width="1.45"/>
<path d="M695.9 178.4 V187.6 M694.3 178.4 H697.5 M694.3 187.6 H697.5" fill="none" stroke="#1a50ff" stroke-width="1.70"/>
<circle cx="695.9" cy="183.0" r="3.0" fill="#fff" stroke="#1a50ff" stroke-width="1.45"/>
<path d="M710.5 168.3 V177.7 M708.9 168.3 H712.1 M708.9 177.7 H712.1" fill="none" stroke="#1a50ff" stroke-width="1.70"/>
<circle cx="710.5" cy="173.0" r="3.0" fill="#fff" stroke="#1a50ff" stroke-width="1.45"/>
<path d="M725.0 161.5 V171.7 M723.4 161.5 H726.6 M723.4 171.7 H726.6" fill="none" stroke="#1a50ff" stroke-width="1.70"/>
<circle cx="725.0" cy="166.6" r="3.0" fill="#fff" stroke="#1a50ff" stroke-width="1.45"/>
<path d="M739.5 157.3 V167.5 M737.9 157.3 H741.1 M737.9 167.5 H741.1" fill="none" stroke="#1a50ff" stroke-width="1.70"/>
<circle cx="739.5" cy="162.4" r="3.0" fill="#fff" stroke="#1a50ff" stroke-width="1.45"/>
<path d="M754.1 161.6 V174.4 M752.5 161.6 H755.7 M752.5 174.4 H755.7" fill="none" stroke="#1a50ff" stroke-width="1.70"/>
<circle cx="754.1" cy="168.0" r="3.0" fill="#fff" stroke="#1a50ff" stroke-width="1.45"/>
<path d="M768.6 168.0 V185.2 M767.0 168.0 H770.2 M767.0 185.2 H770.2" fill="none" stroke="#1a50ff" stroke-width="1.70"/>
<circle cx="768.6" cy="176.6" r="3.0" fill="#fff" stroke="#1a50ff" stroke-width="1.45"/>
<circle cx="477.9" cy="377.6" r="3.0" fill="#fff" stroke="#1a50ff" stroke-width="1.45"/>
<circle cx="492.4" cy="385.5" r="3.0" fill="#fff" stroke="#1a50ff" stroke-width="1.45"/>
<circle cx="507.0" cy="399.9" r="3.0" fill="#fff" stroke="#1a50ff" stroke-width="1.45"/>
<circle cx="521.5" cy="408.8" r="3.0" fill="#fff" stroke="#1a50ff" stroke-width="1.45"/>
<circle cx="536.0" cy="403.5" r="3.0" fill="#fff" stroke="#1a50ff" stroke-width="1.45"/>
<circle cx="550.6" cy="398.7" r="3.0" fill="#fff" stroke="#1a50ff" stroke-width="1.45"/>
<circle cx="565.1" cy="397.8" r="3.0" fill="#fff" stroke="#1a50ff" stroke-width="1.45"/>
<circle cx="579.6" cy="403.5" r="3.0" fill="#fff" stroke="#1a50ff" stroke-width="1.45"/>
<circle cx="594.2" cy="400.4" r="3.0" fill="#fff" stroke="#1a50ff" stroke-width="1.45"/>
<circle cx="608.7" cy="409.8" r="3.0" fill="#fff" stroke="#1a50ff" stroke-width="1.45"/>
<circle cx="623.2" cy="407.1" r="3.0" fill="#fff" stroke="#1a50ff" stroke-width="1.45"/>
<circle cx="637.8" cy="409.5" r="3.0" fill="#fff" stroke="#1a50ff" stroke-width="1.45"/>
<circle cx="652.3" cy="403.1" r="3.0" fill="#fff" stroke="#1a50ff" stroke-width="1.45"/>
<circle cx="666.9" cy="400.7" r="3.0" fill="#fff" stroke="#1a50ff" stroke-width="1.45"/>
<circle cx="681.4" cy="398.0" r="3.0" fill="#fff" stroke="#1a50ff" stroke-width="1.45"/>
<circle cx="695.9" cy="391.5" r="3.0" fill="#fff" stroke="#1a50ff" stroke-width="1.45"/>
<circle cx="710.5" cy="383.6" r="3.0" fill="#fff" stroke="#1a50ff" stroke-width="1.45"/>
<circle cx="725.0" cy="377.6" r="3.0" fill="#fff" stroke="#1a50ff" stroke-width="1.45"/>
<circle cx="739.5" cy="372.3" r="3.0" fill="#fff" stroke="#1a50ff" stroke-width="1.45"/>
<circle cx="754.1" cy="375.9" r="3.0" fill="#fff" stroke="#1a50ff" stroke-width="1.45"/>
<circle cx="768.6" cy="399.2" r="3.0" fill="#fff" stroke="#1a50ff" stroke-width="1.45"/>
<text x="128.6" y="465.1" font-size="20.6" text-anchor="middle" >0.0</text>
<text x="186.8" y="465.1" font-size="20.6" text-anchor="middle" >0.2</text>
<text x="245.0" y="465.1" font-size="20.6" text-anchor="middle" >0.4</text>
<text x="303.2" y="465.1" font-size="20.6" text-anchor="middle" >0.6</text>
<text x="361.4" y="465.1" font-size="20.6" text-anchor="middle" >0.8</text>
<path d="M359 0 L271 0 L271 503 L101 503 L101 566 C198 570 268 604 296 703 L359 703 Z" transform="translate(405.28 465.10) scale(0.02060 -0.02060)"/>
<text x="416.7" y="465.1" font-size="20.6" text-anchor="start" >.0</text>
<text x="477.9" y="465.1" font-size="20.6" text-anchor="middle" >0.0</text>
<text x="536.0" y="465.1" font-size="20.6" text-anchor="middle" >0.2</text>
<text x="594.2" y="465.1" font-size="20.6" text-anchor="middle" >0.4</text>
<text x="652.3" y="465.1" font-size="20.6" text-anchor="middle" >0.6</text>
<text x="710.5" y="465.1" font-size="20.6" text-anchor="middle" >0.8</text>
<path d="M359 0 L271 0 L271 503 L101 503 L101 566 C198 570 268 604 296 703 L359 703 Z" transform="translate(754.28 465.10) scale(0.02060 -0.02060)"/>
<text x="765.7" y="465.1" font-size="20.6" text-anchor="start" >.0</text>
<text x="274.5" y="487.3" font-size="20.6" text-anchor="middle" >F</text>
<text x="623.5" y="487.3" font-size="20.6" text-anchor="middle" >F</text>
<path d="M359 0 L271 0 L271 503 L101 503 L101 566 C198 570 268 604 296 703 L359 703 Z" transform="translate(71.59 32.10) scale(0.02060 -0.02060)"/>
<text x="94.5" y="32.1" font-size="20.6" text-anchor="end" >0</text>
<path d="M359 0 L271 0 L271 503 L101 503 L101 566 C198 570 268 604 296 703 L359 703 Z" transform="translate(83.05 187.80) scale(0.02060 -0.02060)"/>
<text x="94.5" y="332.0" font-size="20.6" text-anchor="end" >0.6</text>
<text x="94.5" y="351.0" font-size="20.6" text-anchor="end" >0.4</text>
<text x="94.5" y="375.2" font-size="20.6" text-anchor="end" >0.2</text>
<text x="94.5" y="398.9" font-size="20.6" text-anchor="end" >0.0</text>
<text x="94.5" y="422.9" font-size="20.6" text-anchor="end" >-0.2</text>
<text x="94.5" y="439.0" font-size="20.6" text-anchor="end" >-0.4</text>
<text transform="translate(54.4 169.6) rotate(-90)" font-size="21.5" text-anchor="middle">p(F)</text>
<g transform="translate(42 416.4) rotate(-90)"><text font-size="20.6">p/p<tspan font-size="12.8" dy="4.6" dx="0.4">REF</tspan><tspan dy="-4.6" dx="0.8">-</tspan></text>
<path d="M359 0 L271 0 L271 503 L101 503 L101 566 C198 570 268 604 296 703 L359 703 Z" transform="translate(62.69 0.00) scale(0.02060 -0.02060)"/>
</g>
<path d="M116.0 51.3 L161.8 51.3" fill="none" stroke="#000" stroke-width="2.15" />
<text x="168.1" y="56.2" font-size="15.5" text-anchor="start" >40-2048-cc (REF)</text>
<path d="M116.0 70.9 L161.8 70.9" fill="none" stroke="#000" stroke-width="2.00" stroke-dasharray="1.9 2.78"/>
<text x="168.1" y="75.2" font-size="15.5" text-anchor="start" >40-2048</text>
<path d="M116.0 90.3 L161.8 90.3" fill="none" stroke="#000" stroke-width="2.15" stroke-dasharray="13.7 6.2"/>
<text x="168.1" y="94.0" font-size="15.5" text-anchor="start" >40-1024-ps13-cc</text>
<path d="M116.0 109.8 L161.8 109.8" fill="none" stroke="#000" stroke-width="2.15" stroke-dasharray="6.9 3.0 1.9 3.0"/>
<text x="168.1" y="113.3" font-size="15.5" text-anchor="start" >40-1024-cc</text>
<path d="M158.5 137.4 L162.3 141.2 L158.5 145.0 L154.7 141.2 Z" fill="#fff" stroke="#ff8c00" stroke-width="1.70"/>
<text x="187.5" y="144.7" font-size="15.5" text-anchor="start" >Kim+07, &lt;z&gt;=2.52</text>
<path d="M158.4 157.5 L162.1 163.8 L154.7 163.8 Z" fill="#fff" stroke="#ff0000" stroke-width="1.70"/>
<text x="187.5" y="163.8" font-size="15.5" text-anchor="start" >Rollinde+13, &lt;z&gt;=2.50</text>
<path d="M472.7 51.2 L518.5 51.2" fill="none" stroke="#000" stroke-width="2.15" />
<text x="525.0" y="56.1" font-size="15.5" text-anchor="start" >40-2048-cc (REF)</text>
<path d="M472.7 70.7 L518.5 70.7" fill="none" stroke="#000" stroke-width="2.00" stroke-dasharray="1.9 2.78"/>
<text x="525.0" y="75.1" font-size="15.5" text-anchor="start" >40-2048</text>
<circle cx="534.3" cy="117.6" r="3.8" fill="#fff" stroke="#1a50ff" stroke-width="1.50"/>
<text x="564.0" y="121.2" font-size="15.5" text-anchor="start" >McDonald+00, &lt;z&gt;=3.89</text>
<path d="M473.0 265.5 L518.8 265.5" fill="none" stroke="#000" stroke-width="2.15" stroke-dasharray="13.7 6.2"/>
<text x="524.6" y="269.0" font-size="15.5" text-anchor="start" >40-2048-zr9-cc</text>
<path d="M473.0 285.1 L518.8 285.1" fill="none" stroke="#000" stroke-width="2.15" stroke-dasharray="6.9 3.0 1.9 3.0"/>
<text x="524.6" y="288.6" font-size="15.5" text-anchor="start" >40-2048-wdm-cc</text>
<text x="245.9" y="343.2" font-size="15.5">z<tspan font-size="9.5" dy="3.6">sim</tspan><tspan dy="-3.6">=2.5</tspan></text>
<text x="595.8" y="343.2" font-size="15.5">z<tspan font-size="9.5" dy="3.6">sim</tspan><tspan dy="-3.6">=3.9</tspan></text>
</svg>
</body></html>
